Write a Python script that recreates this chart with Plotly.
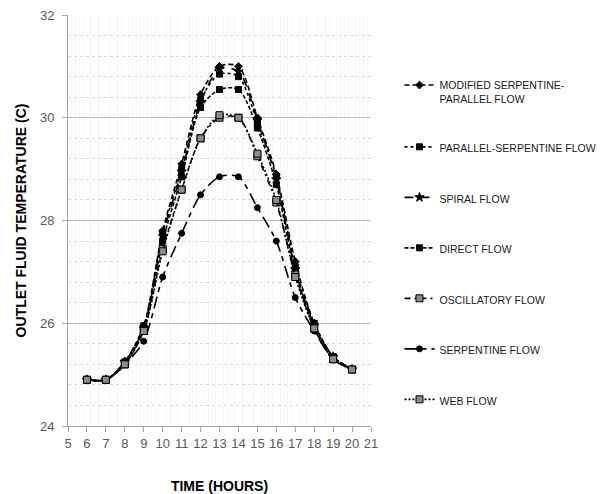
import plotly.graph_objects as go

hours = [6, 7, 8, 9, 10, 11, 12, 13, 14, 15, 16, 17, 18, 19, 20]

modified_serpentine_parallel = [24.9, 24.9, 25.25, 25.95, 27.8, 29.1, 30.45, 31.0, 31.0, 30.0, 28.9, 27.2, 26.0, 25.35, 25.1]
parallel_serpentine = [24.9, 24.9, 25.25, 25.95, 27.75, 29.0, 30.35, 30.85, 30.8, 29.9, 28.85, 27.1, 26.0, 25.35, 25.1]
spiral = [24.9, 24.9, 25.25, 25.9, 27.7, 28.95, 30.3, 30.95, 30.9, 29.95, 28.8, 27.05, 25.95, 25.35, 25.1]
direct = [24.9, 24.9, 25.2, 25.9, 27.6, 28.85, 30.2, 30.55, 30.55, 29.8, 28.7, 27.0, 25.95, 25.35, 25.1]
oscillatory = [24.9, 24.9, 25.2, 25.85, 27.45, 28.6, 29.6, 30.0, 30.0, 29.25, 28.35, 26.95, 25.9, 25.3, 25.1]
serpentine = [24.9, 24.9, 25.2, 25.65, 26.9, 27.75, 28.5, 28.85, 28.85, 28.25, 27.6, 26.5, 25.85, 25.3, 25.1]
web = [24.9, 24.9, 25.2, 25.85, 27.4, 28.6, 29.6, 30.05, 30.0, 29.3, 28.4, 26.9, 25.9, 25.3, 25.1]

series_names = [
    "MODIFIED SERPENTINE-<br>PARALLEL FLOW",
    "PARALLEL-SERPENTINE FLOW",
    "SPIRAL FLOW",
    "DIRECT FLOW",
    "OSCILLATORY FLOW",
    "SERPENTINE FLOW",
    "WEB FLOW",
]
series_values = [modified_serpentine_parallel, parallel_serpentine, spiral, direct,
                 oscillatory, serpentine, web]

styles = [
    dict(dash="5px,3px", symbol="diamond", fill="black", size=6),
    dict(dash="dot", symbol="square", fill="black", size=6),
    dict(dash="9px,7px", symbol="star", fill="black", size=7),
    dict(dash="4px,2px", symbol="square", fill="black", size=6),
    dict(dash="6px,4px,2px,4px", symbol="square", fill="#8c8c8c", size=7),
    dict(dash="12px,5px,5px,5px", symbol="circle", fill="black", size=6),
    dict(dash="2px,2px", symbol="square", fill="#8c8c8c", size=7),
]

fig = go.Figure()
for i, (name, vals, st) in enumerate(zip(series_names, series_values, styles)):
    fig.add_trace(go.Scatter(
        x=hours, y=vals, name=name, mode="lines+markers",
        legendgroup=f"g{i}",
        line=dict(color="black", width=1.6, dash=st["dash"], shape="spline", smoothing=0.8),
        marker=dict(symbol=st["symbol"], size=st["size"], color=st["fill"],
                    line=dict(color="black", width=1)),
    ))

tick_font = dict(family="Liberation Sans, Arial, sans-serif", size=13, color="#595959")
title_font = dict(family="Liberation Sans, Arial, sans-serif", size=14, color="black")

fig.update_layout(
    width=613, height=494,
    margin=dict(l=68, r=238, t=15, b=68),
    paper_bgcolor="white", plot_bgcolor="white",
    showlegend=True,
    legend=dict(
        x=1.094, y=0.862, xanchor="left", yanchor="top",
        font=dict(family="Liberation Sans, Arial, sans-serif", size=10.5, color="#1a1a1a"),
        tracegroupgap=31.5, valign="top", itemwidth=30,
        bgcolor="rgba(0,0,0,0)",
    ),
    xaxis=dict(
        range=[5, 21], dtick=1, tick0=5, showgrid=False, automargin=False,
        showline=True, linecolor="#a6a6a6", linewidth=1,
        ticks="outside", ticklen=5, tickcolor="#a6a6a6",
        tickfont=tick_font, zeroline=False,
        minor=dict(dtick=0.2, showgrid=True, gridcolor="#f6f6f6", gridwidth=1),
        title=dict(text="<b>TIME (HOURS)</b>", font=title_font, standoff=33),
    ),
    yaxis=dict(
        range=[24, 32], dtick=2, tick0=24, automargin=False,
        showgrid=True, gridcolor="#bdbdbd", gridwidth=1,
        showline=True, linecolor="#a6a6a6", linewidth=1,
        ticks="outside", ticklen=5, tickcolor="#a6a6a6", ticklabelstandoff=5,
        tickfont=tick_font, zeroline=False,
        minor=dict(dtick=0.4, showgrid=True, gridcolor="#d9d9d9", gridwidth=1, griddash="dot"),
        title=dict(text="<b>OUTLET FLUID TEMPERATURE (C)</b>", font=title_font, standoff=10),
    ),
)

fig.write_html("out.html", config={"displayModeBar": False},
               post_script="document.body.style.margin='0';")
